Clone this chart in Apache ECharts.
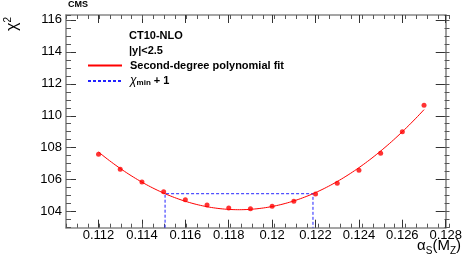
<!DOCTYPE html>
<html><head><meta charset="utf-8">
<script src="https://cdn.jsdelivr.net/npm/echarts@6/dist/echarts.min.js"></script>
<style>html,body{margin:0;padding:0;background:#fff}#c{width:465px;height:263px}</style>
</head><body><div id="c"></div>
<script>
// ---- data ----
const alphaS = [0.112,0.113,0.114,0.115,0.116,0.117,0.118,0.119,0.120,0.121,0.122,0.123,0.124,0.125,0.126,0.127];
const chi2 = [107.6,106.65,105.86,105.25,104.75,104.42,104.23,104.19,104.34,104.65,105.1,105.78,106.6,107.65,109.0,110.65];
const xMajorTicks = [0.112,0.114,0.116,0.118,0.12,0.122,0.124,0.126,0.128];
const yMajorTicks = [104,106,108,110,112,114,116];
const xRange = [0.1105, 0.128];
const yRange = [103, 116.3];

// ---- second-degree polynomial least-squares fit of the points ----
function fitParabola(xs, ys){
  const c = 0.119, s = 1000;
  let S=[0,0,0,0,0], T=[0,0,0];
  for(let i=0;i<xs.length;i++){
    const u=(xs[i]-c)*s; let p=1;
    for(let k=0;k<5;k++){S[k]+=p; if(k<3) T[k]+=p*ys[i]; p*=u;}
  }
  const M=[[S[0],S[1],S[2],T[0]],[S[1],S[2],S[3],T[1]],[S[2],S[3],S[4],T[2]]];
  for(let i=0;i<3;i++){for(let j=i+1;j<3;j++){const f=M[j][i]/M[i][i];for(let k=i;k<4;k++)M[j][k]-=f*M[i][k];}}
  const b=[0,0,0];
  for(let i=2;i>=0;i--){let v=M[i][3];for(let k=i+1;k<3;k++)v-=M[i][k]*b[k];b[i]=v/M[i][i];}
  return {c, s, b, f: x=>{const u=(x-c)*s;return b[0]+b[1]*u+b[2]*u*u;}};
}
const fit = fitParabola(alphaS, chi2);
const fitLine = [];
for(let i=0;i<=150;i++){const x=alphaS[0]+(alphaS[alphaS.length-1]-alphaS[0])*i/150; fitLine.push([x, fit.f(x)]);}
const uMin = -fit.b[1]/(2*fit.b[2]);
const chi2Min = fit.b[0]+fit.b[1]*uMin+fit.b[2]*uMin*uMin;
const du = Math.sqrt(1/fit.b[2]);
const xLo = fit.c+(uMin-du)/fit.s, xHi = fit.c+(uMin+du)/fit.s;
const boxLine = [[xLo,yRange[0]],[xLo,chi2Min+1],[xHi,chi2Min+1],[xHi,yRange[0]]];

const FONT='Liberation Sans';
const chart = echarts.init(document.getElementById('c'), null, {renderer:'canvas'});
const gridRect = {left:66, right:15.5, top:15, bottom:35.3};
function xAx(grid, pos, major){
  return {type:'value', gridIndex:grid, position:pos, min:xRange[0], max:xRange[1],
    interval: major?undefined:0.0005,
    axisLine:{show:major, lineStyle:{color:'#888', width:1.6}},
    axisTick: major?{show:true, inside:true, length:8, customValues:xMajorTicks, lineStyle:{color:'#333', width:1}}
                   :{show:true, inside:true, length:4, lineStyle:{color:'#555', width:1}},
    axisLabel: (major&&pos==='bottom')?{show:true, customValues:xMajorTicks, margin:1, color:'#000', fontSize:13, fontFamily:FONT,
      formatter:v=>String(+v.toFixed(3))}:{show:false},
    splitLine:{show:false}};
}
function yAx(grid, pos, major){
  return {type:'value', gridIndex:grid, position:pos, min:yRange[0], max:yRange[1],
    interval: major?undefined:0.5,
    axisLine:{show:major, lineStyle:{color:'#888', width:1.6}},
    axisTick: major?{show:true, inside:true, length:10, customValues:yMajorTicks, lineStyle:{color:'#333', width:1}}
                   :{show:true, inside:true, length:5, lineStyle:{color:'#555', width:1}},
    axisLabel: (major&&pos==='left')?{show:true, customValues:yMajorTicks, margin:4, color:'#000', fontSize:13, fontFamily:FONT}:{show:false},
    splitLine:{show:false}};
}
const yTitleAxis = yAx(0,'left',true);
Object.assign(yTitleAxis, {
  name:'{c|χ}{p|2}', nameLocation:'end', nameRotate:90, nameGap:-16,
  nameTextStyle:{padding:[0,0,106,0],
    rich:{c:{fontFamily:FONT,fontSize:16,lineHeight:20,color:'#000'},
          p:{fontFamily:FONT,fontSize:10,lineHeight:10,verticalAlign:'top',color:'#000'}}}
});
const legendCommon = {left:87, orient:'vertical', padding:0, itemWidth:34, itemHeight:12,
  itemStyle:{color:'rgba(0,0,0,0)', borderWidth:0, opacity:0}};
const option = {
  animation:false,
  backgroundColor:'#fff',
  grid:[Object.assign({},gridRect),Object.assign({},gridRect)],
  xAxis:[xAx(0,'bottom',true), xAx(0,'top',true), xAx(1,'bottom',false), xAx(1,'top',false)],
  yAxis:[yTitleAxis, yAx(0,'right',true), yAx(1,'left',false), yAx(1,'right',false)],
  legend:[
    Object.assign({data:['fit'], top:60,
     textStyle:{fontFamily:FONT, fontSize:11, fontWeight:'bold', color:'#000', padding:[0,0,0,3]},
     formatter:()=>'Second-degree polynomial fit'}, legendCommon),
    Object.assign({data:['chimin'], top:75,
     textStyle:{fontFamily:FONT, fontSize:11, fontWeight:'bold', color:'#000', padding:[0,0,0,3],
       rich:{c:{fontFamily:FONT,fontSize:12,fontWeight:'normal',fontStyle:'italic',color:'#000',lineHeight:12},
             s:{fontFamily:FONT,fontSize:8,fontWeight:'bold',color:'#000',verticalAlign:'bottom',lineHeight:8},
             b:{fontFamily:FONT,fontSize:11,fontWeight:'bold',color:'#000',lineHeight:12}}},
     formatter:()=>'{c|χ}{s|min}{b| + 1}'}, legendCommon)
  ],
  graphic:[
    {type:'text', left:68, top:0, style:{text:'CMS', font:'bold 9px '+FONT, fill:'#000'}},
    {type:'text', x:129, y:36, style:{text:'CT10-NLO', font:'bold 11px '+FONT, fill:'#000', verticalAlign:'middle'}},
    {type:'text', x:129, y:51, style:{text:'|y|<2.5', font:'bold 11px '+FONT, fill:'#000', verticalAlign:'middle'}},
    {type:'text', x:461, y:246, style:{text:'{a|α}{s|S}{a|(M}{s|Z}{a|)}', align:'right', verticalAlign:'middle',
      rich:{a:{fontFamily:FONT,fontSize:15,lineHeight:20,fill:'#000',color:'#000'},
            s:{fontFamily:FONT,fontSize:10,lineHeight:10,verticalAlign:'bottom',fill:'#000',color:'#000'}}}}
  ],
  series:[
    {name:'chimin', type:'line', xAxisIndex:0, yAxisIndex:0, data:boxLine, showSymbol:false, symbol:'none',
     lineStyle:{color:'#2222ff', width:1, type:[3,2]}, itemStyle:{color:'#2222ff'}, silent:true},
    {name:'fit', type:'line', xAxisIndex:0, yAxisIndex:0, data:fitLine, showSymbol:false, symbol:'none', smooth:false,
     lineStyle:{color:'#ff0000', width:1}, itemStyle:{color:'#ff0000'}, silent:true},
    {name:'points', type:'scatter', xAxisIndex:0, yAxisIndex:0, data:alphaS.map((x,i)=>[x,chi2[i]]),
     symbol:'circle', symbolSize:5, itemStyle:{color:'#ff0000'}, silent:true},
    {name:'minorTickHost', type:'scatter', xAxisIndex:2, yAxisIndex:2, data:alphaS.map((x,i)=>[x,chi2[i]]),
     symbolSize:0, itemStyle:{opacity:0}, silent:true}
  ]
};
chart.setOption(option);
</script></body></html>
